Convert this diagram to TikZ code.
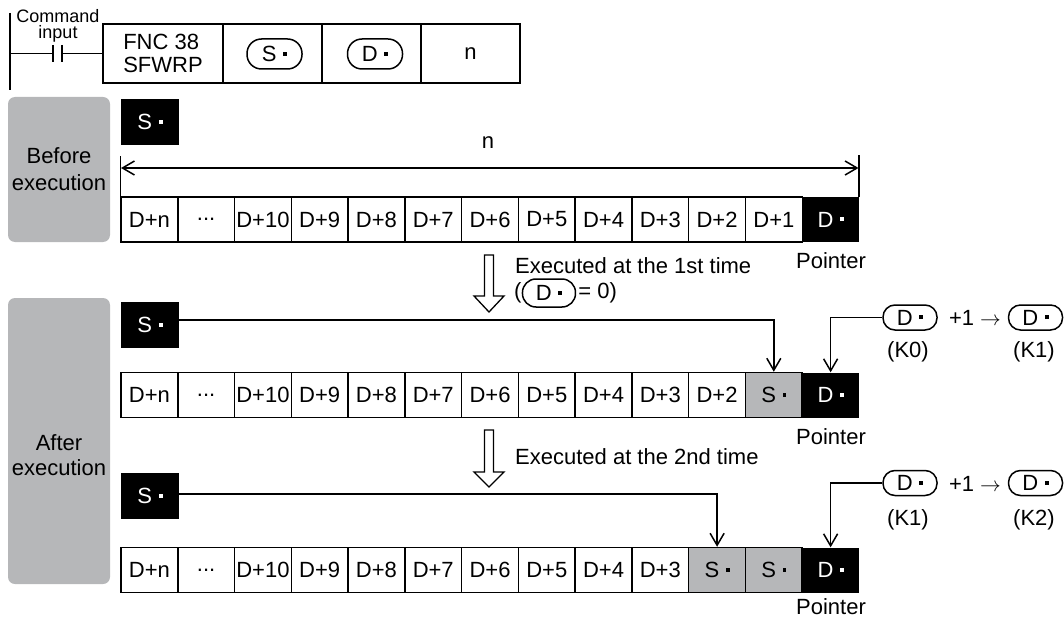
\documentclass[tikz,border=0pt]{standalone}
\usepackage{fontspec}
\setmainfont{Liberation Sans}
\usetikzlibrary{arrows.meta}
\definecolor{boxgray}{RGB}{182,183,185}
\newcommand{\dotsq}{\hspace{0.3em}\raisebox{0.27em}{\rule{0.17em}{0.17em}}}
\newcommand{\tdots}{...}
\tikzset{
  every node/.style={font=\fontsize{22}{26}\selectfont, inner sep=0pt},
  cell/.style={draw, line width=1.5pt, minimum width=56.77pt, minimum height=45pt},
  blackcell/.style={fill=black, text=white, minimum width=56.77pt, minimum height=45pt},
  graycell/.style={cell, fill=boxgray},
  sbox/.style={fill=black, text=white, minimum width=58.5pt, minimum height=46pt},
  oval/.style={draw, line width=1.5pt, rounded corners=12pt, minimum width=54pt, minimum height=25pt},
  bigoval/.style={draw, line width=1.5pt, rounded corners=14.5pt, minimum width=55pt, minimum height=30pt},
  lbox/.style={draw, line width=1.6pt, minimum height=59pt},
  graybox/.style={fill=boxgray, rounded corners=7pt},
  thin/.style={line width=1.5pt},
  conn/.style={line width=1.5pt, -{Straight Barb[length=12pt,width=14pt,line width=1.5pt]}},
  dim/.style={line width=1.5pt, {Straight Barb[length=12pt,width=14pt,line width=1.5pt]}-{Straight Barb[length=12pt,width=14pt,line width=1.5pt]}},
  hollow/.style={line width=1.3pt, fill=white, line join=miter},
  small/.style={font=\fontsize{18}{20}\selectfont}
}
\begin{document}
\begin{tikzpicture}[x=1pt,y=-1pt]
\useasboundingbox (0,0) rectangle (1064,620);

% ---------- ladder ----------
\coordinate (railtop) at (10,13);
\coordinate (railbot) at (10,90);
\draw[thin] (railtop) -- (railbot);
\node[small] (cmd) at (58,16) {Command};
\node[small] (inp) at (58,34) {input};
\coordinate (rail) at (10,53.5);
\coordinate (ca) at (53,53.5);
\coordinate (cb) at (62,53.5);
\node[lbox, minimum width=120pt, align=left, font=\fontsize{22}{23}\selectfont] (fnc) at (163,53.5) {FNC 38\\SFWRP};
\node[lbox, minimum width=99pt] (sc) at (272.5,53.5) {};
\node[lbox, minimum width=99pt] (dc) at (371.5,53.5) {};
\node[lbox, minimum width=99pt] (nc) at (470.5,53.5) {n};
\node[bigoval] (so) at (274.5,54) {S\dotsq};
\node[bigoval] (do) at (375,54) {D\dotsq};
\draw[thin] (rail) -- (ca);
\draw[thin] (53,45) -- (53,62);
\draw[thin] (62,45) -- (62,62);
\draw[thin] (cb) -- (fnc.west);

% ---------- gray side boxes ----------
\node[graybox, minimum width=102pt, minimum height=145pt, align=center, font=\fontsize{22}{27}\selectfont] (before) at (59,169.5) {Before\\execution};
\node[graybox, minimum width=102pt, minimum height=286pt] (after) at (59,441) {};
\node[align=center, font=\fontsize{22}{25}\selectfont] (aftertxt) at (59,455) {After\\execution};

% ---------- source boxes ----------
\node[sbox] (s1) at (150,122) {S\dotsq};
\node[sbox] (s2) at (150,325) {S\dotsq};
\node[sbox] (s3) at (150,496) {S\dotsq};

% ---------- rows ----------
\foreach \r/\cy/\lim in {1/219.5/11, 2/395/10, 3/570/9}{
  \foreach \lab [count=\i from 0] in {D+n,\tdots,D+10,D+9,D+8,D+7,D+6,D+5,D+4,D+3,D+2,D+1}{
    \ifnum\i>\lim\relax\else
      \node[cell] (r\r-\i) at ({121+(\i+0.5)*56.77},\cy) {\lab};
    \fi
  }
}
\node[blackcell] (r1-12) at (830.6,219.5) {D\dotsq};
\node[graycell] (r2-11) at (773.8,395) {S\dotsq};
\node[blackcell] (r2-12) at (830.6,395) {D\dotsq};
\node[graycell] (r3-10) at (717.1,570) {S\dotsq};
\node[graycell] (r3-11) at (773.8,570) {S\dotsq};
\node[blackcell] (r3-12) at (830.6,570) {D\dotsq};

% ---------- n dimension ----------
\coordinate (nl) at (121,168);
\coordinate (nr) at (858.5,168);
\draw[dim] (nl) -- (nr);
\draw[thin] (r1-0.north west) -- ++(0,-40);
\draw[thin] (r1-12.north east) -- ++(0,-42);
\node (nlab) at (488,143) {n};

% ---------- pointers ----------
\node (p1) at (831,261) {Pointer};
\node (p2) at (831,437) {Pointer};
\node (p3) at (831,607) {Pointer};

% ---------- hollow arrows ----------
\draw[hollow] (484.5,255) -- (493.5,255) -- (493.5,296) -- (504,296) -- (489,312) -- (474,296) -- (484.5,296) -- cycle;
\draw[hollow] (484.5,430) -- (493.5,430) -- (493.5,472) -- (504,472) -- (489,487) -- (474,472) -- (484.5,472) -- cycle;
\node[anchor=west] (ex1) at (515,266) {Executed at the 1st time};
\node[anchor=west] (pa) at (514,293) {(};
\node[oval, anchor=west, minimum height=28pt, rounded corners=13.5pt, minimum width=53pt] (po) at (pa.east) {D\dotsq};
\node[anchor=west] (pb) at ([xshift=2pt]po.east) {= 0)};
\node[anchor=west] (ex2) at (515,457) {Executed at the 2nd time};

% ---------- pointer increment ----------
\node[oval] (o1a) at (910,317.5) {D\dotsq};
\node (pl1) at (975,318) {+1 $\rightarrow$};
\node[oval] (o1b) at (1035.5,317.5) {D\dotsq};
\node (k0) at (908,352) {(K0)};
\node (k1a) at (1034,352) {(K1)};
\node[oval] (o2a) at (910,483) {D\dotsq};
\node (pl2) at (975,483.5) {+1 $\rightarrow$};
\node[oval] (o2b) at (1035.5,483) {D\dotsq};
\node (k1b) at (908,520) {(K1)};
\node (k2) at (1034,520) {(K2)};

% ---------- connectors ----------
\draw[conn] ([yshift=5pt]s2.east) -| (r2-11.north);
\draw[conn] ([yshift=2pt]s3.east) -| (r3-10.north);
\draw[conn] (o1a.west) -| (r2-12.north);
\draw[conn] (o2a.west) -| (r3-12.north);
\end{tikzpicture}
\end{document}
